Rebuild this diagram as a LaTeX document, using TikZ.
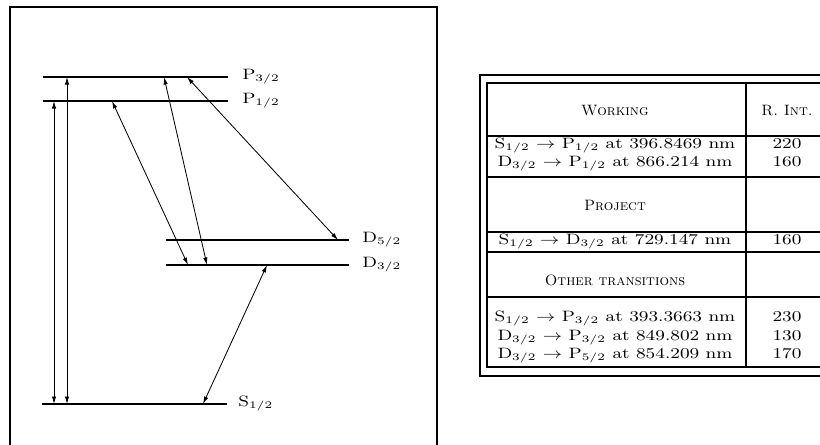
\documentclass[tikz,border=0pt]{standalone}
\usetikzlibrary{arrows.meta}

% szeroki krój jak w skanie
\newcommand{\wide}[1]{\scalebox{1.25}[1]{#1}}
\newcommand{\st}[2]{$\mathrm{#1}_{#2}$}

\begin{document}
\begin{tikzpicture}[x=0.6pt, y=-0.6pt, >={Latex[length=4.5pt, width=2.6pt]},
    font=\fontsize{9}{11}\selectfont,
    level/.style={line width=1.6pt},
    sublevel/.style={line width=0.9pt},
    trans/.style={<->, line width=0.5pt},
    lbl/.style={anchor=base west, inner sep=0pt},
    rule/.style={line width=0.7pt},
    cell/.style={anchor=base, inner sep=0pt}]

    \useasboundingbox (0,0) rectangle (820,444);

    % 1. Ramka schematu poziomów (dolna krawędź poza obrazem)
    \draw[rule] (10,450) |- (437,7) -- (437,450);

    % 2. Poziomy energetyczne
    \coordinate (P3w) at (43,77);   \coordinate (P3e) at (228,77);
    \coordinate (P1w) at (43,101);  \coordinate (P1e) at (228,101);
    \coordinate (D5w) at (166,240); \coordinate (D5e) at (349,240);
    \coordinate (D3w) at (166,265); \coordinate (D3e) at (349,265);
    \coordinate (S1w) at (42,404);  \coordinate (S1e) at (227,404);

    \draw[sublevel] (P3w) -- (P3e);
    \draw[level]    (P1w) -- (P1e);
    \draw[sublevel] (D5w) -- (D5e);
    \draw[level]    (D3w) -- (D3e);
    \draw[level]    (S1w) -- (S1e);

    \node[lbl] (P3) at (242,79)  {\wide{\st{P}{3/2}}};
    \node[lbl] (P1) at (242,103) {\wide{\st{P}{1/2}}};
    \node[lbl] (D5) at (362,242) {\wide{\st{D}{5/2}}};
    \node[lbl] (D3) at (362,267) {\wide{\st{D}{3/2}}};
    \node[lbl] (S1) at (238,406) {\wide{\st{S}{1/2}}};

    % 3. Przejścia (końce strzałek na poziomach)
    \coordinate (p1a) at (54,101);  \coordinate (s1a) at (54,404);
    \coordinate (p3a) at (67,77);   \coordinate (s1b) at (67,404);
    \coordinate (p1b) at (112,101); \coordinate (d3a) at (188,265);
    \coordinate (p3b) at (164,77);  \coordinate (d3b) at (207,265);
    \coordinate (p3c) at (187,77);  \coordinate (d5a) at (338,240);
    \coordinate (d3c) at (267,265); \coordinate (s1c) at (203,404);

    \draw[trans] (p1a) -- (s1a);
    \draw[trans] (p3a) -- (s1b);
    \draw[trans] (p1b) -- (d3a);
    \draw[trans] (p3b) -- (d3b);
    \draw[trans] (p3c) -- (d5a);
    \draw[trans] (d3c) -- (s1c);

    % 4. Tabela przejść (prawa krawędź poza obrazem)
    \draw[rule] (825,75) -| (480,376) -- (825,376);
    \draw[rule] (825,83) -| (487,367) -- (825,367);
    \draw[rule] (746,83) -- (746,367);
    \foreach \y in {136,177,232,252,297}
        \draw[rule] (487,\y) -- (825,\y);

    % nagłówki
    \node[cell] (hwork) at (615,115) {\textsc{Working}};
    \node[cell] (hint)  at (787,115) {\textsc{R. Int.}};
    \node[cell] (hproj) at (615,210) {\textsc{Project}};
    \node[cell] (hoth)  at (615,285) {\textsc{Other transitions}};

    % wiersze
    \node[cell] (w1) at (615,148) {\wide{\st{S}{1/2} $\rightarrow$ \st{P}{1/2} at 396.8469 nm}};
    \node[cell] (w2) at (615,166) {\wide{\st{D}{3/2} $\rightarrow$ \st{P}{1/2} at 866.214 nm}};
    \node[cell] (j1) at (615,244) {\wide{\st{S}{1/2} $\rightarrow$ \st{D}{3/2} at 729.147 nm}};
    \node[cell] (o1) at (615,321) {\wide{\st{S}{1/2} $\rightarrow$ \st{P}{3/2} at 393.3663 nm}};
    \node[cell] (o2) at (615,340) {\wide{\st{D}{3/2} $\rightarrow$ \st{P}{3/2} at 849.802 nm}};
    \node[cell] (o3) at (615,358) {\wide{\st{D}{3/2} $\rightarrow$ \st{P}{5/2} at 854.209 nm}};

    \node[cell] (iw1) at (787,148) {\wide{220}};
    \node[cell] (iw2) at (787,166) {\wide{160}};
    \node[cell] (ij1) at (787,244) {\wide{160}};
    \node[cell] (io1) at (787,321) {\wide{230}};
    \node[cell] (io2) at (787,340) {\wide{130}};
    \node[cell] (io3) at (787,358) {\wide{170}};

\end{tikzpicture}
\end{document}
